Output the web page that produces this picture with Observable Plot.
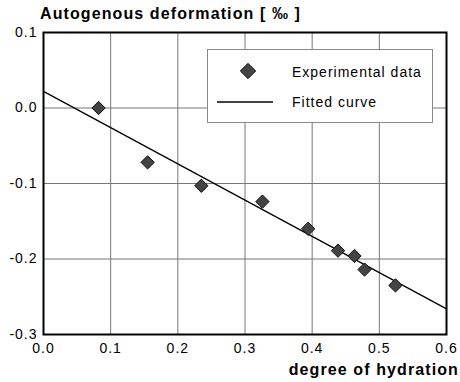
<!DOCTYPE html>
<html><head><meta charset="utf-8">
<script src="https://cdn.jsdelivr.net/npm/d3@7"></script>
<script src="https://cdn.jsdelivr.net/npm/@observablehq/plot@0.6"></script>
<style>
body{margin:0;background:#fff;}
#wrap{position:relative;width:460px;height:382px;font-family:"Liberation Sans",Arial,sans-serif;color:#000;}
.lab{position:absolute;font-weight:bold;font-size:16px;letter-spacing:1.1px;white-space:nowrap;line-height:1;}
#title{left:40px;top:6px;}
#xlab{right:1px;top:362px;}
#legend{position:absolute;left:207px;top:49px;}
</style></head>
<body>
<div id="wrap">
  <div id="chart"></div>
  <div class="lab" id="title">Autogenous deformation [ ‰ ]</div>
  <div class="lab" id="xlab">degree of hydration</div>
  <svg id="legend" width="226" height="74"></svg>
</div>
<script>
const hydration = [0.082, 0.155, 0.235, 0.326, 0.394, 0.4385, 0.463, 0.478, 0.524];
const deformation = [0.000, -0.072, -0.103, -0.124, -0.160, -0.189, -0.196, -0.214, -0.235];
const fitHydration = [0, 0.6];
const fitDeformation = [0.022, -0.266];
const xTicks = [0, 0.1, 0.2, 0.3, 0.4, 0.5, 0.6];
const yTicks = [-0.3, -0.2, -0.1, 0, 0.1];
const legendLabels = ["Experimental data", "Fitted curve"];

const points = hydration.map((x, i) => ({x, y: deformation[i]}));
const fit = fitHydration.map((x, i) => ({x, y: fitDeformation[i]}));
const fmt = d => (Math.abs(d) < 1e-9 ? 0 : d).toFixed(1);

const chart = Plot.plot({
  width: 460, height: 382,
  marginLeft: 43, marginRight: 14, marginTop: 32, marginBottom: 48,
  style: {fontFamily: '"Liberation Sans", Arial, sans-serif', fontSize: "14px", letterSpacing: "1px", color: "#000", background: "#fff"},
  x: {domain: [0, 0.6], label: null},
  y: {domain: [-0.3, 0.1], label: null},
  marks: [
    Plot.gridX(xTicks, {stroke: "#777", strokeOpacity: 1}),
    Plot.gridY(yTicks, {stroke: "#777", strokeOpacity: 1}),
    Plot.axisX(xTicks, {tickSize: 0, tickPadding: 9, tickFormat: fmt, fontSize: 14}),
    Plot.axisY(yTicks, {tickSize: 0, tickPadding: 6, tickFormat: fmt, fontSize: 14}),
    Plot.line(fit, {x: "x", y: "y", stroke: "#000", strokeWidth: 1.3}),
    Plot.dot(points, {x: "x", y: "y", symbol: "diamond2", r: 6, fill: "#444", stroke: "#111", strokeWidth: 1}),
    Plot.frame({stroke: "#000", strokeWidth: 2})
  ]
});
document.getElementById("chart").appendChild(chart);

// Legend
const lg = d3.select("#legend");
lg.append("rect").attr("x", 0.5).attr("y", 0.5).attr("width", 225).attr("height", 73)
  .attr("fill", "#fff").attr("stroke", "#888");
lg.append("path").attr("d", d3.symbol(d3.symbolDiamond2, 150)()).attr("transform", "translate(41,22)")
  .attr("fill", "#444").attr("stroke", "#111");
lg.append("line").attr("x1", 10).attr("x2", 66).attr("y1", 53).attr("y2", 53).attr("stroke", "#000").attr("stroke-width", 1.3);
lg.selectAll("text.l").data(legendLabels).join("text")
  .attr("x", 85).attr("y", (d, i) => i === 0 ? 28 : 58)
  .attr("font-family", '"Liberation Sans", Arial, sans-serif').attr("font-size", 14)
  .attr("letter-spacing", "1px").text(d => d);
</script>
</body></html>
